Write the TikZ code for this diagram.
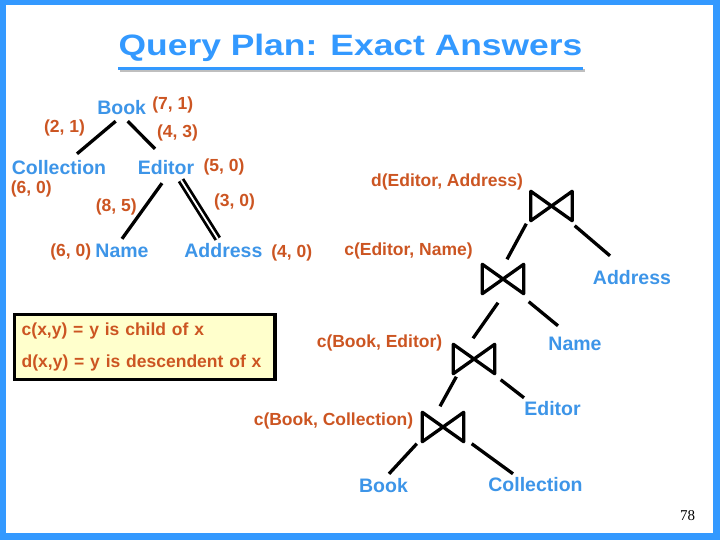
\documentclass[tikz,border=0pt]{standalone}
\usepackage{graphicx}
\usepackage{fontspec}
\setmainfont{Liberation Sans}
\newfontfamily\pagefont{Liberation Serif}

\definecolor{slideblue}{RGB}{51,153,255}
\definecolor{textblue}{RGB}{61,149,232}
\definecolor{costorange}{RGB}{204,85,34}
\definecolor{notefill}{RGB}{255,255,204}

\begin{document}
\begin{tikzpicture}[x=1pt,y=-1pt,
  relname/.style={text=textblue,font=\fontsize{19.5}{22}\bfseries,text height=14pt,text depth=0pt,inner sep=4pt},
  cost/.style={text=costorange,font=\fontsize{17.5}{20}\bfseries,inner sep=1pt},
  branch/.style={line width=3.3pt},
  joinop/.style={minimum width=41pt,minimum height=29pt,inner sep=0pt},
  tiestroke/.style={line width=3.3pt,line join=round}]
\useasboundingbox (0,0) rectangle (720,540);
% slide frame
\fill[slideblue] (0,0) rectangle (720,540);
\fill[white] (6,5) rectangle (713,533);

% title
\node[text=slideblue,font=\fontsize{29.5}{32}\bfseries,text height=21pt,text depth=0pt,inner sep=0pt] (title) at (350.5,45.5) {\scalebox{1.2}[1]{Query Plan: Exact Answers}};
\draw[black!25,line width=3pt] ([shift={(2,14)}]title.south west) -- ([shift={(2,14)}]title.south east);
\draw[slideblue,line width=3pt] ([shift={(0,12)}]title.south west) -- ([shift={(0,12)}]title.south east);

% pattern tree
\node[relname] (book) at (121.7,108) {Book};
\node[relname] (coll) at (59,168) {Collection};
\node[relname] (editor) at (166,168) {Editor};
\node[relname] (name) at (122,250) {Name};
\node[relname] (addr) at (223.4,250) {Address};

\node[cost] (bookcost) at (172.7,105) {(7, 1)};
\node[cost] (collcost) at (64.5,128) {(2, 1)};
\node[cost] (editcost) at (177.5,132.7) {(4, 3)};
\node[cost] (editorcost) at (224,167) {(5, 0)};
\node[cost] (collsize) at (31.3,189) {(6, 0)};
\node[cost] (namecost) at (116.3,206.7) {(8, 5)};
\node[cost] (addrcost) at (234.5,202) {(3, 0)};
\node[cost] (namesize) at (70.7,251.7) {(6, 0)};
\node[cost] (addrsize) at (291.7,252.7) {(4, 0)};

\draw[branch] ([shift={(-6,2)}]book.south) -- ([shift={(18,-3)}]coll.north);
\draw[branch] ([shift={(6,2)}]book.south) -- ([shift={(-11,-8)}]editor.north);
\draw[branch] ([shift={(-4,4)}]editor.south) -- (name.north);
\draw[branch,double,double distance=1.8pt,line width=2.8pt] ([shift={(15,1)}]editor.south) -- ([shift={(-5.6,0)}]addr.north);

% legend
\node[draw=black,line width=3.3pt,fill=notefill,minimum width=260.6pt,minimum height=64.6pt,
  text width=252pt,inner xsep=4.3pt,align=left,text=costorange,font=\fontsize{17.5}{21}\bfseries] (legend)
  at (144.7,347) {\hspace*{3pt}c(x,y) = y is child of x\\[11pt]\hspace*{3pt}d(x,y) = y is descendent of x};

% join plan
\node[joinop] (j1) at (551.5,206) {};
\node[joinop] (j2) at (503,279) {};
\node[joinop] (j3) at (474,359) {};
\node[joinop] (j4) at (443,427) {};
\foreach \j in {j1,j2,j3,j4}
  \draw[tiestroke] (\j.north west) -- (\j.south east) -- (\j.north east) -- (\j.south west) -- cycle;

\node[cost] (j1label) at (447,182) {d(Editor, Address)};
\node[cost] (j2label) at (408.5,250.7) {c(Editor, Name)};
\node[cost] (j3label) at (379.5,342.7) {c(Book, Editor)};
\node[cost] (j4label) at (333.5,421) {c(Book, Collection)};

\node[relname] (addr2) at (632,277) {Address};
\node[relname] (name2) at (575,343) {Name};
\node[relname] (editor2) at (552.5,408) {Editor};
\node[relname] (book2) at (383.5,485) {Book};
\node[relname] (coll2) at (535.5,484) {Collection};

\draw[branch] ([shift={(-4.5,3)}]j1.south west) -- ([shift={(4,-5)}]j2.north);
\draw[branch] ([shift={(2.5,5)}]j1.south east) -- ([shift={(-22,-10)}]addr2.north);
\draw[branch] ([shift={(15.7,9)}]j2.south west) -- ([shift={(-1,-6)}]j3.north);
\draw[branch] ([shift={(5,8)}]j2.south east) -- ([shift={(-17,-6)}]name2.north);
\draw[branch] ([shift={(3,3)}]j3.south west) -- ([shift={(-3,-6)}]j4.north);
\draw[branch] ([shift={(6,6)}]j3.south east) -- ([shift={(-28.5,1)}]editor2.north);
\draw[branch] ([shift={(-5.5,2)}]j4.south west) -- ([shift={(5.5,0)}]book2.north);
\draw[branch] ([shift={(8,2)}]j4.south east) -- ([shift={(-22.5,1)}]coll2.north);

\node[font=\pagefont\fontsize{15}{16}\selectfont,inner sep=0pt] (pagenum) at (687.5,516) {78};
\end{tikzpicture}
\end{document}
